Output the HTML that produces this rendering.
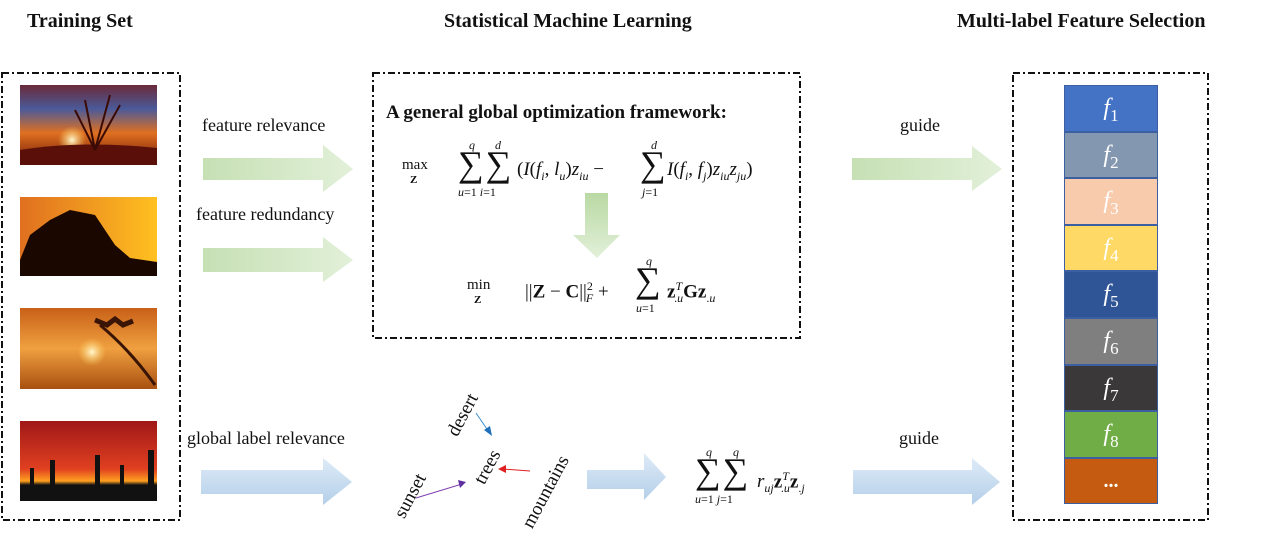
<!DOCTYPE html>
<html><head><meta charset="utf-8"><style>
body{margin:0;width:1266px;height:542px;background:#fff;position:relative;overflow:hidden;font-family:"Liberation Serif",serif;color:#111}
.a{position:absolute;white-space:nowrap}
.t{font-weight:bold;font-size:20px;top:10px}
.l{font-size:18px}
.cell{position:absolute;left:1064px;width:94px;height:46.6px;box-sizing:border-box;border:1px solid #3b5fa0;color:#fff;font-style:italic;font-size:24px;text-align:center;line-height:44px}
.cell sub{font-style:normal;font-size:17px}
.sum{position:absolute;font-size:36px;line-height:36px;font-style:normal;letter-spacing:2px}
.s{position:absolute;font-size:12px;font-style:italic;line-height:12px}
.e{position:absolute;font-size:19px;line-height:20px}
.e sub,.e sup{font-size:12px}
.r{position:absolute;font-size:19px;transform:rotate(-62deg);transform-origin:left top}
</style></head><body>
<div class="a t" style="left:27px">Training Set</div>
<div class="a t" style="left:444px">Statistical Machine Learning</div>
<div class="a t" style="left:957px">Multi-label Feature Selection</div>

<svg class="a" style="left:0;top:0" width="1266" height="542">
<defs>
<linearGradient id="g" x1="0" x2="1"><stop offset="0" stop-color="#c6e0b4"/><stop offset="1" stop-color="#e2f0d9"/></linearGradient>
<linearGradient id="b" x1="0" y1="0" x2="0" y2="1"><stop offset="0" stop-color="#deebf7"/><stop offset="1" stop-color="#b4cfe9"/></linearGradient>
<linearGradient id="gd" x1="0" y1="0" x2="0" y2="1"><stop offset="0" stop-color="#b9d9a3"/><stop offset="1" stop-color="#e2f0d9"/></linearGradient>
<linearGradient id="i1" x1="0" y1="0" x2="0" y2="1"><stop offset="0" stop-color="#6a2a3a"/><stop offset=".3" stop-color="#4a5a9a"/><stop offset=".6" stop-color="#e07020"/><stop offset="1" stop-color="#6a1508"/></linearGradient>
<linearGradient id="i2" x1="0" y1="0" x2="1" y2="0"><stop offset="0" stop-color="#e07020"/><stop offset="1" stop-color="#ffc020"/></linearGradient>
<linearGradient id="i3" x1="0" y1="0" x2="0" y2="1"><stop offset="0" stop-color="#c86018"/><stop offset=".5" stop-color="#f0a040"/><stop offset="1" stop-color="#a85010"/></linearGradient>
<linearGradient id="i4" x1="0" y1="0" x2="0" y2="1"><stop offset="0" stop-color="#a01818"/><stop offset=".6" stop-color="#e04020"/><stop offset=".75" stop-color="#ffa020"/><stop offset=".8" stop-color="#111"/></linearGradient>
<radialGradient id="sun"><stop offset="0" stop-color="#fff8d0"/><stop offset="1" stop-color="#ffd060" stop-opacity="0"/></radialGradient>
</defs>
<g fill="none" stroke="#111" stroke-width="2" stroke-dasharray="7,3,2,3">
<rect x="2" y="73" width="178" height="447"/>
<rect x="373" y="73" width="427" height="265"/>
<rect x="1013" y="73" width="195" height="447"/>
</g>
<rect x="20" y="85" width="137" height="80" fill="url(#i1)"/>
<circle cx="72" cy="140" r="14" fill="url(#sun)"/>
<path d="M20 150 Q80 140 157 148 L157 165 L20 165Z" fill="#5a1008"/>
<path d="M95 150 L85 100 M95 150 L110 95 M95 150 L120 105 M95 150 L75 110" stroke="#3a0a05" stroke-width="2"/>
<rect x="20" y="197" width="137" height="79" fill="url(#i2)"/>
<path d="M20 260 L30 235 L50 220 L70 210 L95 215 L115 245 L130 258 L157 262 L157 276 L20 276Z" fill="#1a0800"/>
<rect x="20" y="308" width="137" height="81" fill="url(#i3)"/>
<circle cx="92" cy="352" r="14" fill="url(#sun)"/>
<path d="M100 325 Q130 350 155 385" stroke="#3a1505" stroke-width="3" fill="none"/>
<path d="M95 320 l12 5 l8 -6 l8 6 l10 -4" stroke="#3a1505" stroke-width="5" fill="none"/>
<rect x="20" y="421" width="137" height="80" fill="url(#i4)"/>
<g fill="#111"><rect x="50" y="460" width="5" height="25"/><rect x="95" y="455" width="5" height="30"/><rect x="120" y="465" width="4" height="20"/><rect x="148" y="450" width="6" height="35"/><rect x="30" y="468" width="4" height="17"/></g>
<path d="M203 158 H323 V145 L353 169 L323 192 V180 H203Z" fill="url(#g)"/>
<path d="M203 248 H323 V237 L353 260 L323 282 V272 H203Z" fill="url(#g)"/>
<path d="M852 158 H972 V146 L1002 169 L972 191 V180 H852Z" fill="url(#g)"/>
<path d="M201 470 H323 V458 L352 482 L323 505 V494 H201Z" fill="url(#b)"/>
<path d="M853 470 H972 V458 L1000 482 L972 505 V494 H853Z" fill="url(#b)"/>
<path d="M587 470 H644 V453 L666 477 L644 500 V489 H587Z" fill="url(#b)"/>
<path d="M585 193 H608 V235 H620 L597 258 L573 235 H585Z" fill="url(#gd)"/>
<line x1="476" y1="413" x2="489" y2="432" stroke="#3b8fd0"/><path d="M492 436 L484 430 L490 426Z" fill="#1f6fb8"/>
<line x1="530" y1="471" x2="503" y2="469" stroke="#e02020"/><path d="M498 469 L506 465 L506 473Z" fill="#e02020"/>
<line x1="416" y1="498" x2="462" y2="484" stroke="#8040b0"/><path d="M466 482 L458 480 L460 488Z" fill="#6030a0"/>
</svg>

<div class="a l" style="left:202px;top:115px">feature relevance</div>
<div class="a l" style="left:196px;top:204px">feature redundancy</div>
<div class="a l" style="left:187px;top:428px">global label relevance</div>
<div class="a l" style="left:900px;top:115px">guide</div>
<div class="a l" style="left:899px;top:428px">guide</div>

<div class="a" style="left:386px;top:102px;font-weight:bold;font-size:19px">A general global optimization framework:</div>

<div class="a" style="left:402px;top:158px;font-size:15px;line-height:15px">max<div style="font-size:11px;font-weight:bold;margin-left:8px">Z</div></div>
<div class="s" style="left:469px;top:139px">q</div><div class="s" style="left:495px;top:139px">d</div>
<div class="sum" style="left:458px;top:146px">∑∑</div>
<div class="s" style="left:458px;top:186px;font-style:normal"><i>u</i>=1 <i>i</i>=1</div>
<div class="e" style="left:517px;top:160px">(<i>I</i>(<i>f<sub>i</sub></i>, <i>l<sub>u</sub></i>)<i>z<sub>iu</sub></i> −</div>
<div class="s" style="left:651px;top:139px">d</div>
<div class="sum" style="left:640px;top:146px">∑</div>
<div class="s" style="left:642px;top:186px;font-style:normal"><i>j</i>=1</div>
<div class="e" style="left:667px;top:160px"><i>I</i>(<i>f<sub>i</sub></i>, <i>f<sub>j</sub></i>)<i>z<sub>iu</sub>z<sub>ju</sub></i>)</div>

<div class="a" style="left:467px;top:278px;font-size:15px;line-height:15px">min<div style="font-size:11px;font-weight:bold;margin-left:7px">Z</div></div>
<div class="e" style="left:525px;top:276px">||<b>Z</b> − <b>C</b>||<sup>2</sup><sub style="margin-left:-7px"><i>F</i></sub> +</div>
<div class="s" style="left:646px;top:255px">q</div>
<div class="sum" style="left:635px;top:262px">∑</div>
<div class="s" style="left:636px;top:302px;font-style:normal"><i>u</i>=1</div>
<div class="e" style="left:667px;top:276px"><b>z</b><sup><i>T</i></sup><sub style="margin-left:-8px">.<i>u</i></sub><b>Gz</b><sub>.<i>u</i></sub></div>

<div class="s" style="left:706px;top:446px">q</div><div class="s" style="left:733px;top:446px">q</div>
<div class="sum" style="left:695px;top:453px">∑∑</div>
<div class="s" style="left:695px;top:493px;font-style:normal"><i>u</i>=1 <i>j</i>=1</div>
<div class="e" style="left:757px;top:466px"><i>r<sub>uj</sub></i><b>z</b><sup><i>T</i></sup><sub style="margin-left:-8px">.<i>u</i></sub><b>z</b><sub>.<i>j</i></sub></div>

<div class="r" style="left:443px;top:430px">desert</div>
<div class="r" style="left:470px;top:478px">trees</div>
<div class="r" style="left:390px;top:512px">sunset</div>
<div class="r" style="left:518px;top:522px">mountains</div>

<div class="cell" style="top:85px;background:#4472c4"><i>f</i><sub>1</sub></div>
<div class="cell" style="top:131.6px;background:#8497b0"><i>f</i><sub>2</sub></div>
<div class="cell" style="top:178.2px;background:#f8cbad"><i>f</i><sub>3</sub></div>
<div class="cell" style="top:224.8px;background:#ffd966"><i>f</i><sub>4</sub></div>
<div class="cell" style="top:271.4px;background:#2f5597"><i>f</i><sub>5</sub></div>
<div class="cell" style="top:318px;background:#7f7f7f"><i>f</i><sub>6</sub></div>
<div class="cell" style="top:364.6px;background:#3a3838"><i>f</i><sub>7</sub></div>
<div class="cell" style="top:411.2px;background:#70ad47"><i>f</i><sub>8</sub></div>
<div class="cell" style="top:457.8px;background:#c55a11;font-style:normal;font-weight:bold;font-size:20px">...</div>
</body></html>
